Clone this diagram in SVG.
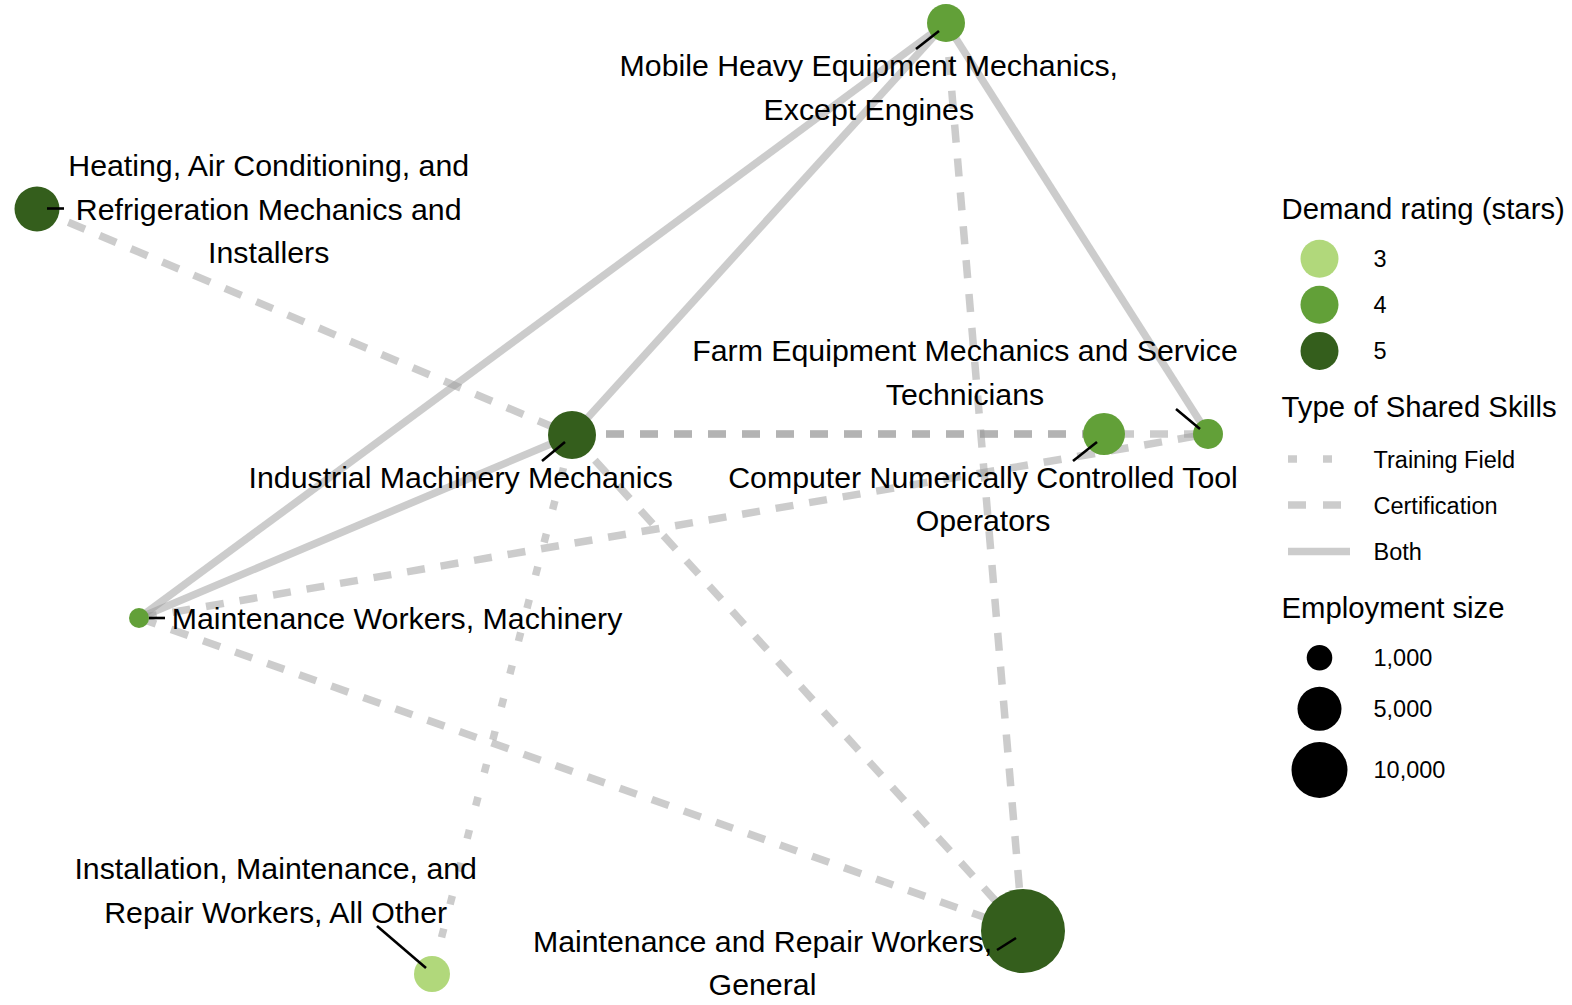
<svg xmlns="http://www.w3.org/2000/svg" width="1572" height="1005" viewBox="0 0 1572 1005">
<style>
text{font-family:"Liberation Sans",Arial,sans-serif;fill:#000}
.lbl{font-size:30.3px;text-anchor:middle}
.ttl{font-size:29.3px}
.itm{font-size:23.5px}
.e{fill:none;stroke:#999;stroke-opacity:0.5;stroke-width:7.5}
.cert{stroke-dasharray:18 16}
.train{stroke-dasharray:9 25}
.lead{stroke:#000;stroke-width:2.6;fill:none}
.s3{fill:#b1d87b}
.s4{fill:#62a038}
.s5{fill:#345e1c}
</style>
<rect width="1572" height="1005" fill="#fff"/>
<g id="connectors">
<line class="e both" x1="946" y1="23" x2="139" y2="618"/>
<line class="e both" x1="946" y1="23" x2="572" y2="435"/>
<line class="e both" x1="946" y1="23" x2="1208" y2="434"/>
<line class="e both" x1="572" y1="435" x2="139" y2="618"/>
<line class="e cert" x1="37" y1="209" x2="572" y2="435"/>
<line class="e cert" x1="572" y1="434" x2="1104" y2="434"/>
<line class="e cert" x1="572" y1="434" x2="1208" y2="434"/>
<line class="e cert" x1="139" y1="618" x2="1208" y2="434"/>
<line class="e cert" x1="139" y1="618" x2="1023" y2="931"/>
<line class="e cert" x1="572" y1="435" x2="1023" y2="931"/>
<line class="e cert" x1="946" y1="23" x2="1023" y2="931"/>
<line class="e train" x1="572" y1="435" x2="432" y2="974"/>
</g>
<g id="node-mobile">
<circle class="s4" cx="946" cy="23" r="19"/>
<line class="lead" x1="916" y1="49" x2="939" y2="31"/>
<text class="lbl" x="868.8" y="75.7">Mobile Heavy Equipment Mechanics,</text>
<text class="lbl" x="868.8" y="119.8">Except Engines</text>
</g>
<g id="node-hvac">
<circle class="s5" cx="37" cy="209" r="22.5"/>
<line class="lead" x1="47" y1="208.5" x2="64" y2="208.5"/>
<text class="lbl" x="268.7" y="175.9">Heating, Air Conditioning, and</text>
<text class="lbl" x="268.7" y="220">Refrigeration Mechanics and</text>
<text class="lbl" x="268.7" y="263.2">Installers</text>
</g>
<g id="node-industrial">
<circle class="s5" cx="572" cy="435" r="24"/>
<line class="lead" x1="542" y1="461" x2="565" y2="442"/>
<text class="lbl" x="460.7" y="487.7">Industrial Machinery Mechanics</text>
</g>
<g id="node-cnc">
<circle class="s4" cx="1104" cy="434" r="21"/>
<line class="lead" x1="1073" y1="461" x2="1097" y2="442"/>
<text class="lbl" x="983" y="487.7">Computer Numerically Controlled Tool</text>
<text class="lbl" x="983" y="530.8">Operators</text>
</g>
<g id="node-farm">
<circle class="s4" cx="1208" cy="434" r="15"/>
<line class="lead" x1="1176" y1="409" x2="1200" y2="429"/>
<text class="lbl" x="965" y="361.4">Farm Equipment Mechanics and Service</text>
<text class="lbl" x="965" y="404.5">Technicians</text>
</g>
<g id="node-maint-mach">
<circle class="s4" cx="139" cy="618" r="10"/>
<line class="lead" x1="149" y1="618" x2="165" y2="618"/>
<text class="lbl" x="397" y="629.1">Maintenance Workers, Machinery</text>
</g>
<g id="node-install">
<circle class="s3" cx="432" cy="974" r="18"/>
<line class="lead" x1="377" y1="926" x2="426" y2="968"/>
<text class="lbl" x="275.7" y="878.8">Installation, Maintenance, and</text>
<text class="lbl" x="275.7" y="922.9">Repair Workers, All Other</text>
</g>
<g id="node-general">
<circle class="s5" cx="1023" cy="931" r="42"/>
<line class="lead" x1="997" y1="950" x2="1016" y2="938"/>
<text class="lbl" x="762.5" y="951.9">Maintenance and Repair Workers,</text>
<text class="lbl" x="762.5" y="995">General</text>
</g>
<g id="legend">
<text class="ttl" x="1281.5" y="218.7">Demand rating (stars)</text>
<circle class="s3" cx="1319.5" cy="258.7" r="19"/>
<circle class="s4" cx="1319.5" cy="304.8" r="19"/>
<circle class="s5" cx="1319.5" cy="350.9" r="19"/>
<text class="itm" x="1373.5" y="267.1">3</text>
<text class="itm" x="1373.5" y="313.2">4</text>
<text class="itm" x="1373.5" y="359.3">5</text>
<text class="ttl" x="1281.5" y="417">Type of Shared Skills</text>
<line class="e" stroke-dasharray="9 26" x1="1288" y1="459" x2="1350" y2="459"/>
<line class="e" stroke-dasharray="18 17" x1="1288" y1="505" x2="1350" y2="505"/>
<line class="e" x1="1288" y1="551.5" x2="1350" y2="551.5"/>
<text class="itm" x="1373.5" y="467.6">Training Field</text>
<text class="itm" x="1373.5" y="513.7">Certification</text>
<text class="itm" x="1373.5" y="559.8">Both</text>
<text class="ttl" x="1281.5" y="617.8">Employment size</text>
<circle cx="1319.5" cy="657.7" r="12.8" fill="#000"/>
<circle cx="1319.5" cy="708.8" r="22" fill="#000"/>
<circle cx="1319.5" cy="770" r="28" fill="#000"/>
<text class="itm" x="1373.5" y="666">1,000</text>
<text class="itm" x="1373.5" y="717.2">5,000</text>
<text class="itm" x="1373.5" y="778.4">10,000</text>
</g>
</svg>
